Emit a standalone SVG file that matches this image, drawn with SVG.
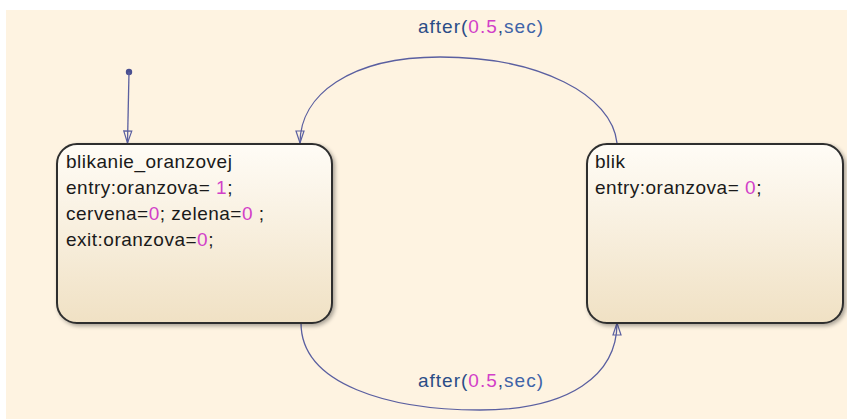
<svg xmlns="http://www.w3.org/2000/svg" width="847" height="419" viewBox="0 0 847 419">
<defs>
<linearGradient id="g" x1="0" y1="0" x2="0" y2="1">
<stop offset="0" stop-color="#FFFCF6"/>
<stop offset="1" stop-color="#F0E1C4"/>
</linearGradient>
<filter id="sh" x="-10%" y="-10%" width="120%" height="120%">
<feGaussianBlur in="SourceAlpha" stdDeviation="2"/>
<feOffset dx="2" dy="2"/>
<feComponentTransfer><feFuncA type="linear" slope="0.35"/></feComponentTransfer>
<feMerge><feMergeNode/><feMergeNode in="SourceGraphic"/></feMerge>
</filter>
<marker id="arr" viewBox="0 0 14 10" refX="13" refY="5" markerWidth="14" markerHeight="10" markerUnits="userSpaceOnUse" orient="auto">
<path d="M1,1 L13,5 L1,9 Z" fill="none" stroke="#5A5FA0" stroke-width="1.2"/>
</marker>
</defs>
<style>
.st{fill:url(#g);stroke:#2E2E2E;stroke-width:2;filter:url(#sh)}
.t{font-family:"Liberation Sans",Arial,sans-serif;font-size:19px;letter-spacing:0.5px;fill:#1A1A1A}
.n{fill:#D23FC8}
.c{fill:none;stroke:#5A5FA0;stroke-width:1.3}
.l{font-family:"Liberation Sans",Arial,sans-serif;font-size:19px;letter-spacing:1px;fill:#2A4C86}
.s{fill:#3E63A8}
</style>
<rect x="0" y="0" width="847" height="419" fill="#FFFFFF"/>
<rect x="6" y="10" width="841" height="409" fill="#FEF3E1"/>
<g id="connectors">
<circle cx="129" cy="72" r="3.2" fill="#4A4F90"/>
<path class="c" d="M129,72 L127.5,143" marker-end="url(#arr)"/>
<path class="c" d="M617,143 C612,95 540,57 440,57 C350,57 300,95 300,143" marker-end="url(#arr)"/>
<path class="c" d="M301,323 C301,385 390,410 480,410 C570,410 617,375 617,323" marker-end="url(#arr)"/>
<text class="l" x="418" y="33">after(<tspan class="n">0.5</tspan>,<tspan class="s">sec)</tspan></text>
<text class="l" x="418" y="387">after(<tspan class="n">0.5</tspan>,<tspan class="s">sec)</tspan></text>
</g>
<g id="blikanie_oranzovej">
<rect class="st" x="57" y="144" width="275" height="179" rx="20" ry="20"/>
<text class="t" x="66" y="168">blikanie_oranzovej</text>
<text class="t" x="66" y="194">entry:oranzova= <tspan class="n">1</tspan>;</text>
<text class="t" x="66" y="220">cervena=<tspan class="n">0</tspan>; zelena=<tspan class="n">0</tspan> ;</text>
<text class="t" x="66" y="246">exit:oranzova=<tspan class="n">0</tspan>;</text>
</g>
<g id="blik">
<rect class="st" x="587" y="144" width="256" height="179" rx="20" ry="20"/>
<text class="t" x="595" y="168">blik</text>
<text class="t" x="595" y="194">entry:oranzova= <tspan class="n">0</tspan>;</text>
</g>
</svg>
